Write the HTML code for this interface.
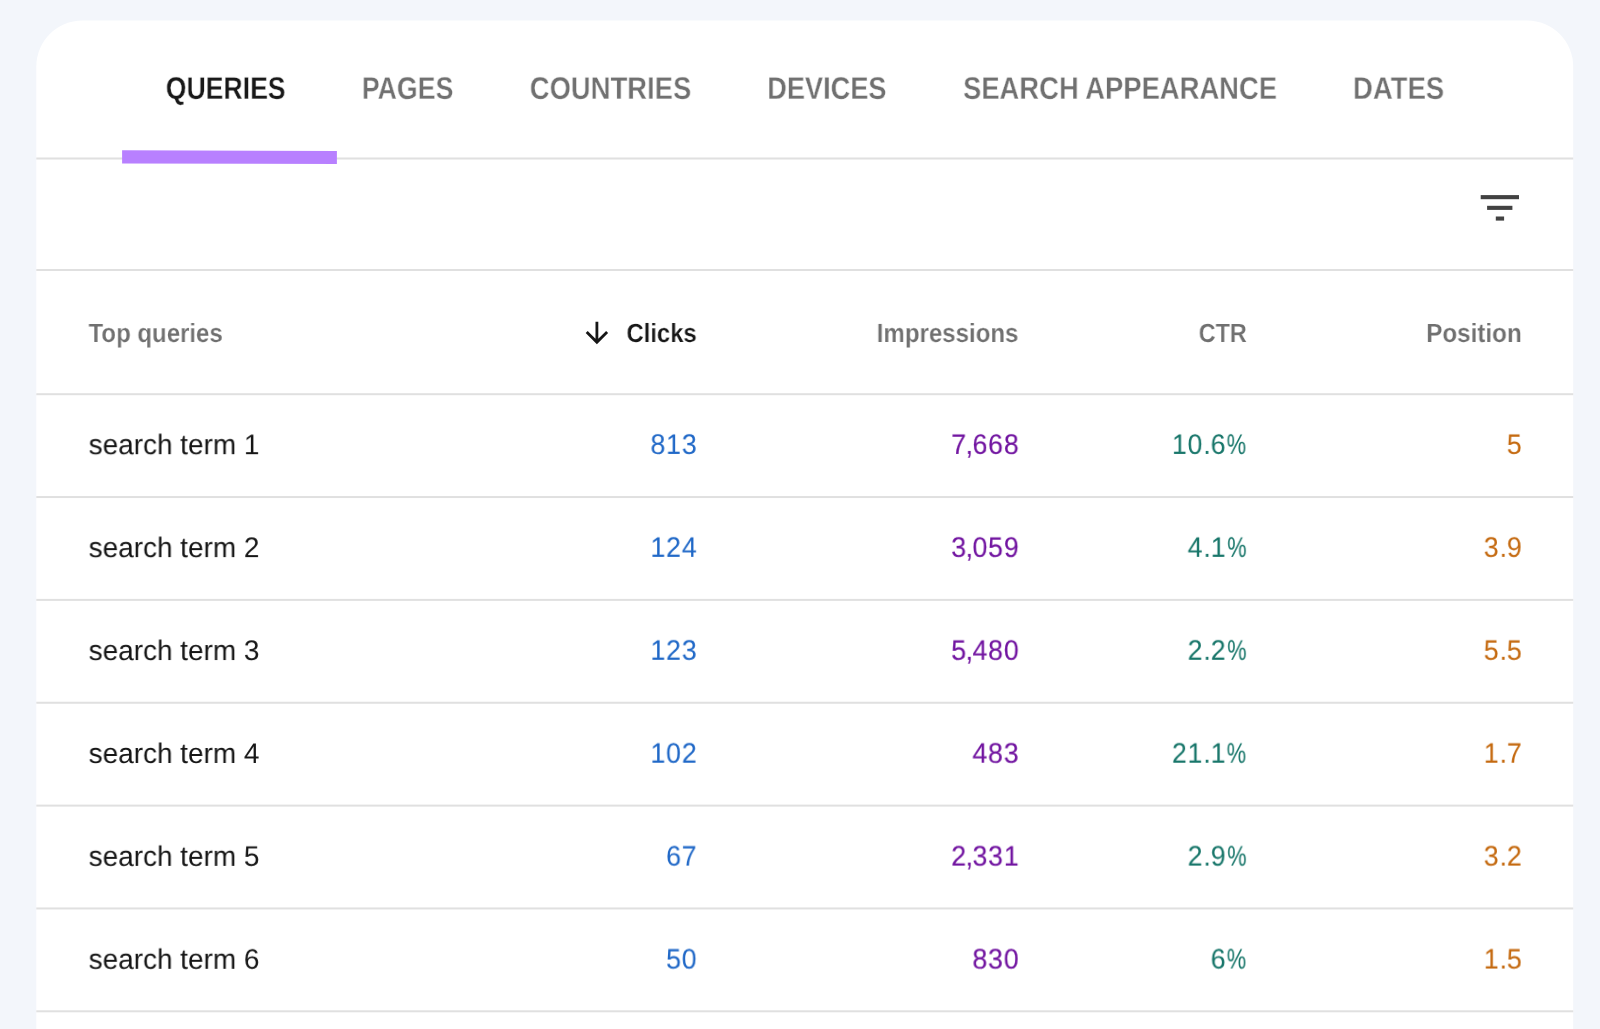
<!DOCTYPE html>
<html lang="en">
<head>
<meta charset="utf-8">
<title>Search Console – Queries</title>
<style>
  html, body { margin: 0; padding: 0; }
  html { background: #f3f6fb; overflow: hidden; }
  body {
    width: 1600px; height: 1029px; overflow: hidden; position: relative;
    background: #f3f6fb;
    font-family: "Liberation Sans", Arial, sans-serif;
  }
  #bg { position: absolute; left: 0; top: 0; }
  .t { position: absolute; left: 0; top: 0; white-space: nowrap; line-height: 1; margin: 0;
       transform-origin: 0 0; will-change: transform; text-rendering: geometricPrecision;
       -webkit-text-stroke: 0 currentColor; }
  .tab { font-size: 31.4px; font-weight: bold; color: #707070; -webkit-text-stroke: 0.34px #fff; }
  .tab.on { color: #181818; }
  .th { font-size: 26.3px; font-weight: bold; color: #707070; -webkit-text-stroke: 0.15px #fff; }
  .th.on { color: #181818; }
  .td { font-size: 28.4px; color: #161616; }
  .num { font-size: 28.3px; letter-spacing: 0.88px; -webkit-text-stroke-width: 0.05px; }
  .num i { font-style: normal; }
  .num .d { letter-spacing: -0.06px; }
  .num .c { letter-spacing: -0.55px; margin-left: -1.49px; }
  .num .p { display: inline-block; letter-spacing: 0; transform: scaleX(0.8146); transform-origin: 0 50%;
            margin-left: 0.7px; margin-right: -4.2px; }
  .num.c2 { -webkit-text-stroke-width: 0.14px; }
  .c1 { color: #2068c7; } .c2 { color: #7114a0; } .c3 { color: #18766a; } .c4 { color: #c4690f; }
</style>
</head>
<body>
<svg id="bg" width="1600" height="1029" viewBox="0 0 1600 1029">
  <!-- card -->
  <rect x="36.3" y="20.6" width="1536.9" height="1100" rx="46" ry="46" fill="#ffffff"/>
  <!-- dividers -->
  <g fill="#e0e0e0">
    <rect x="36.3" y="157.5" width="1536.9" height="2"/>
    <rect x="36.3" y="269" width="1536.9" height="2"/>
    <rect x="36.3" y="393.2" width="1536.9" height="2"/>
    <rect x="36.3" y="496.05" width="1536.9" height="2"/>
    <rect x="36.3" y="598.9" width="1536.9" height="2"/>
    <rect x="36.3" y="701.75" width="1536.9" height="2"/>
    <rect x="36.3" y="804.6" width="1536.9" height="2"/>
    <rect x="36.3" y="907.45" width="1536.9" height="2"/>
    <rect x="36.3" y="1010.3" width="1536.9" height="2"/>
  </g>
  <!-- active tab highlight -->
  <polygon points="122.1,150.2 336.9,151 336.9,164.1 122.1,163.4" fill="#b880ff"/>
  <!-- filter icon -->
  <g fill="#424242">
    <rect x="1480.7" y="195.1" width="38.3" height="4.1"/>
    <rect x="1487.1" y="205.8" width="25.3" height="4.1"/>
    <rect x="1495.8" y="216.5" width="8.3" height="4.1"/>
  </g>
  <!-- sort arrow -->
  <g fill="#161616" transform="translate(580.1 316.2) scale(1.4)">
    <path d="M20 12l-1.41-1.41L13 16.17V4h-2v12.17l-5.58-5.59L4 12l8 8 8-8z"/>
  </g>
</svg>

<nav class="tabs" role="tablist">
  <div class="t tab on" role="tab" aria-selected="true" style="transform:translate(165.75px,72.9px) scaleX(0.8484)">QUERIES</div>
  <div class="t tab" role="tab" style="transform:translate(361.8px,72.9px) scaleX(0.851)">PAGES</div>
  <div class="t tab" role="tab" style="transform:translate(529.75px,72.9px) scaleX(0.8736)">COUNTRIES</div>
  <div class="t tab" role="tab" style="transform:translate(767.2px,72.9px) scaleX(0.8659)">DEVICES</div>
  <div class="t tab" role="tab" style="transform:translate(963px,72.9px) scaleX(0.8726)">SEARCH APPEARANCE</div>
  <div class="t tab" role="tab" style="transform:translate(1352.9px,72.9px) scaleX(0.8781)">DATES</div>
</nav>
<div class="table" role="table">
  <div class="row head" role="row">
    <div class="t th" role="columnheader" style="transform:translate(88.55px,320px) scaleX(0.9122)">Top queries</div>
    <div class="t th on" role="columnheader" style="transform:translate(626.5px,320px) scaleX(0.9067)">Clicks</div>
    <div class="t th" role="columnheader" style="transform:translate(876.75px,320px) scaleX(0.9145)">Impressions</div>
    <div class="t th" role="columnheader" style="transform:translate(1198.7px,320px) scaleX(0.8894)">CTR</div>
    <div class="t th" role="columnheader" style="transform:translate(1426.25px,320px) scaleX(0.9202)">Position</div>
  </div>
  <div class="row" role="row">
    <div class="t td" role="cell" style="transform:translate(88.65px,431.15px) scaleX(0.9839)">search term 1</div>
    <div class="t num c1" role="cell" style="transform:translate(650.47px,429.9px) scaleX(0.9435)">813</div>
    <div class="t num c2" role="cell" style="transform:translate(951.25px,429.9px) scaleX(0.9435)">7<i class="c">,</i>668</div>
    <div class="t num c3" role="cell" style="transform:translate(1171.93px,429.9px) scaleX(0.9435)">10<i class="d">.</i>6<i class="p">%</i></div>
    <div class="t num c4" role="cell" style="transform:translate(1506.83px,429.9px) scaleX(0.9435)">5</div>
  </div>
  <div class="row" role="row">
    <div class="t td" role="cell" style="transform:translate(88.65px,534.08px) scaleX(0.9839)">search term 2</div>
    <div class="t num c1" role="cell" style="transform:translate(650.47px,532.83px) scaleX(0.9435)">124</div>
    <div class="t num c2" role="cell" style="transform:translate(951.25px,532.83px) scaleX(0.9435)">3<i class="c">,</i>059</div>
    <div class="t num c3" role="cell" style="transform:translate(1187.62px,532.83px) scaleX(0.9435)">4<i class="d">.</i>1<i class="p">%</i></div>
    <div class="t num c4" role="cell" style="transform:translate(1483.77px,532.83px) scaleX(0.9435)">3<i class="d">.</i>9</div>
  </div>
  <div class="row" role="row">
    <div class="t td" role="cell" style="transform:translate(88.65px,637.01px) scaleX(0.9839)">search term 3</div>
    <div class="t num c1" role="cell" style="transform:translate(650.47px,635.76px) scaleX(0.9435)">123</div>
    <div class="t num c2" role="cell" style="transform:translate(951.25px,635.76px) scaleX(0.9435)">5<i class="c">,</i>480</div>
    <div class="t num c3" role="cell" style="transform:translate(1187.62px,635.76px) scaleX(0.9435)">2<i class="d">.</i>2<i class="p">%</i></div>
    <div class="t num c4" role="cell" style="transform:translate(1483.77px,635.76px) scaleX(0.9435)">5<i class="d">.</i>5</div>
  </div>
  <div class="row" role="row">
    <div class="t td" role="cell" style="transform:translate(88.65px,739.94px) scaleX(0.9839)">search term 4</div>
    <div class="t num c1" role="cell" style="transform:translate(650.47px,738.69px) scaleX(0.9435)">102</div>
    <div class="t num c2" role="cell" style="transform:translate(972.43px,738.69px) scaleX(0.9435)">483</div>
    <div class="t num c3" role="cell" style="transform:translate(1171.93px,738.69px) scaleX(0.9435)">21<i class="d">.</i>1<i class="p">%</i></div>
    <div class="t num c4" role="cell" style="transform:translate(1483.77px,738.69px) scaleX(0.9435)">1<i class="d">.</i>7</div>
  </div>
  <div class="row" role="row">
    <div class="t td" role="cell" style="transform:translate(88.65px,842.87px) scaleX(0.9839)">search term 5</div>
    <div class="t num c1" role="cell" style="transform:translate(666.13px,841.62px) scaleX(0.9435)">67</div>
    <div class="t num c2" role="cell" style="transform:translate(951.25px,841.62px) scaleX(0.9435)">2<i class="c">,</i>331</div>
    <div class="t num c3" role="cell" style="transform:translate(1187.62px,841.62px) scaleX(0.9435)">2<i class="d">.</i>9<i class="p">%</i></div>
    <div class="t num c4" role="cell" style="transform:translate(1483.77px,841.62px) scaleX(0.9435)">3<i class="d">.</i>2</div>
  </div>
  <div class="row" role="row">
    <div class="t td" role="cell" style="transform:translate(88.65px,945.8px) scaleX(0.9839)">search term 6</div>
    <div class="t num c1" role="cell" style="transform:translate(666.13px,944.55px) scaleX(0.9435)">50</div>
    <div class="t num c2" role="cell" style="transform:translate(972.43px,944.55px) scaleX(0.9435)">830</div>
    <div class="t num c3" role="cell" style="transform:translate(1210.67px,944.55px) scaleX(0.9435)">6<i class="p">%</i></div>
    <div class="t num c4" role="cell" style="transform:translate(1483.77px,944.55px) scaleX(0.9435)">1<i class="d">.</i>5</div>
  </div>
</div>
</body>
</html>
